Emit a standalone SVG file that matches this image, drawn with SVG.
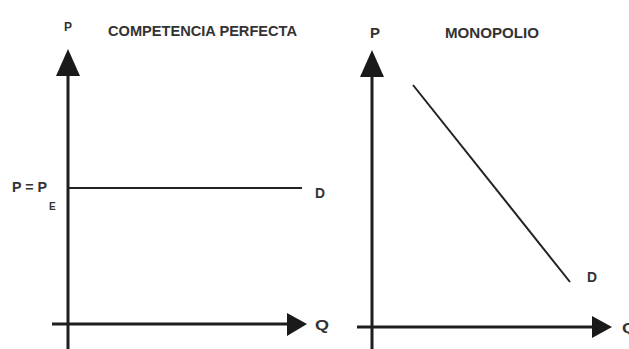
<svg xmlns="http://www.w3.org/2000/svg" width="629" height="349" viewBox="0 0 629 349">
<style>
.ax{stroke:#1e1e1e;stroke-width:3;fill:none}
.cv{stroke:#222;stroke-width:2;fill:none}
.hd{fill:#1a1a1a}
.t{font-family:"Liberation Sans",Arial,sans-serif;font-weight:bold;fill:#333}
</style>
<rect width="629" height="349" fill="#fff"/>
<g id="left-chart">
<text class="t" x="108" y="36" font-size="15" textLength="189" lengthAdjust="spacingAndGlyphs">COMPETENCIA PERFECTA</text>
<text class="t" x="68" y="31" font-size="13" text-anchor="middle" textLength="8" lengthAdjust="spacingAndGlyphs">P</text>
<text class="t" x="12" y="192" font-size="15" textLength="35" lengthAdjust="spacingAndGlyphs">P = P</text>
<text class="t" x="49" y="210" font-size="10">E</text>
<text class="t" x="315" y="198" font-size="15" textLength="10" lengthAdjust="spacingAndGlyphs">D</text>
<text class="t" x="315" y="330" font-size="15" textLength="14" lengthAdjust="spacingAndGlyphs">Q</text>
</g>
<g id="right-chart">
<text class="t" x="445" y="38" font-size="15" textLength="94" lengthAdjust="spacingAndGlyphs">MONOPOLIO</text>
<text class="t" x="375" y="38" font-size="15" text-anchor="middle" textLength="10" lengthAdjust="spacingAndGlyphs">P</text>
<text class="t" x="587" y="282" font-size="15" textLength="10" lengthAdjust="spacingAndGlyphs">D</text>
<text class="t" x="622" y="333" font-size="15" textLength="14" lengthAdjust="spacingAndGlyphs">Q</text>
</g>
<g id="connectors">
<line class="ax" x1="68" y1="74" x2="68" y2="349"/>
<polygon class="hd" points="68,49 56,76 80,76"/>
<line class="ax" x1="52" y1="324" x2="290" y2="324"/>
<polygon class="hd" points="307,324 287,313 287,336"/>
<line class="cv" x1="68" y1="188" x2="302" y2="188"/>
<line class="ax" x1="372" y1="75" x2="372" y2="349"/>
<polygon class="hd" points="372,50 360,77 384,77"/>
<line class="ax" x1="357" y1="327" x2="595" y2="327"/>
<polygon class="hd" points="612,327 592,316 592,338"/>
<line class="cv" x1="413" y1="85" x2="570" y2="282"/>
</g>
</svg>
